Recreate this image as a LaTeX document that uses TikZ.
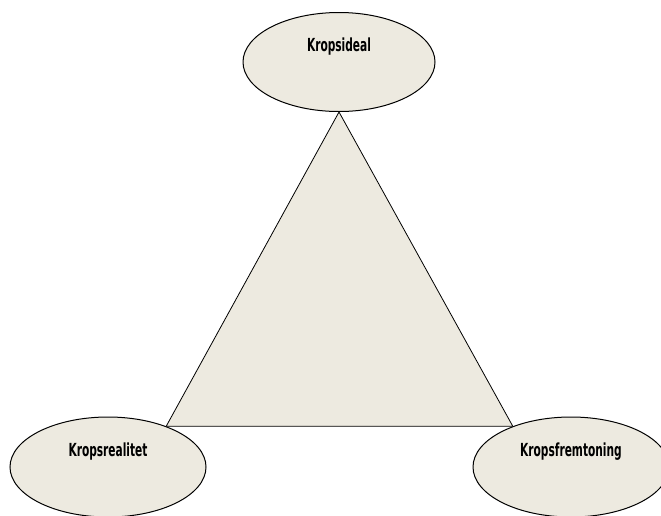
\documentclass[tikz,border=0pt]{standalone}
\usepackage{fontspec}
\newfontfamily\labelfont[FakeStretch=0.59]{DejaVu Sans}
\usepackage{tikz}
\usetikzlibrary{shapes,positioning,backgrounds}
\definecolor{beige}{RGB}{237,234,224}
\tikzstyle{bubble} = [draw,ellipse,fill=beige,line width=1pt,inner sep=0pt,minimum width=196pt,minimum height=100pt]
\tikzstyle{caption} = [font=\labelfont\bfseries\fontsize{18}{21}\selectfont,yshift=15pt]
\tikzstyle{triangle} = [draw,fill=beige,line width=0.8pt,line join=miter]

\begin{document}
\begin{tikzpicture}
		\useasboundingbox (0,0) rectangle (661pt,-515pt);
		\node[bubble,minimum width=192pt,minimum height=99pt,label={[caption]center:Kropsideal}](ideal) at (339pt,-62pt){};
		\node[bubble,below of=ideal,node distance=405pt,xshift=-231pt,label={[caption]center:Kropsrealitet}](realitet){};
		\node[bubble,below of=ideal,node distance=405pt,xshift=232pt,label={[caption]center:Kropsfremtoning}](fremtoning){};
		%triangle
		\begin{scope}[on background layer]
		\path[triangle](ideal.south)--(fremtoning.145)--(realitet.35)--cycle;
		\end{scope}
	\end{tikzpicture}
\end{document}
